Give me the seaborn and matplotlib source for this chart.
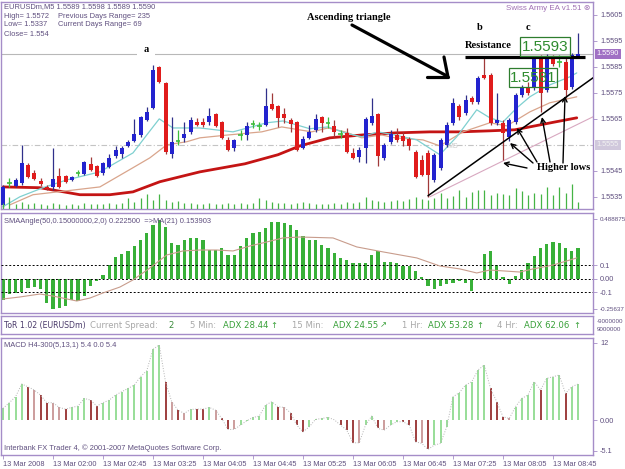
import numpy as np
import pandas as pd
import matplotlib
matplotlib.use('Agg')
import matplotlib.pyplot as plt
from matplotlib.patches import Rectangle
from matplotlib.lines import Line2D
import seaborn as sns

sns.set_theme(style='white')
plt.rcParams['font.family'] = ['Liberation Sans', 'DejaVu Sans']

# ---- EURUSDm M5 candles (13 Mar 2008) ----
opens = [1.55319, 1.55404, 1.55392, 1.55404, 1.55473, 1.55442, 1.55412, 1.55388, 1.55388, 1.55431,
         1.55431, 1.55415, 1.55442, 1.55438, 1.55477, 1.55469, 1.55442, 1.55465, 1.55508, 1.55515,
         1.55546, 1.55565, 1.55588, 1.55646, 1.55692, 1.55850, 1.55788, 1.55515, 1.55565, 1.55577,
         1.55600, 1.55638, 1.55638, 1.55638, 1.55669, 1.55638, 1.55569, 1.55538, 1.55588, 1.55588,
         1.55631, 1.55623, 1.55627, 1.55708, 1.55700, 1.55669, 1.55646, 1.55638, 1.55538, 1.55577,
         1.55608, 1.55658, 1.55635, 1.55623, 1.55592, 1.55596, 1.55519, 1.55504, 1.55538, 1.55635,
         1.55669, 1.55500, 1.55562, 1.55588, 1.55585, 1.55573, 1.55523, 1.55492, 1.55519, 1.55415,
         1.55462, 1.55550, 1.55635, 1.55700, 1.55673, 1.55731, 1.55715, 1.55819, 1.55819, 1.55635,
         1.55635, 1.55581, 1.55638, 1.55742, 1.55773, 1.55769, 1.55885, 1.55762, 1.55881, 1.55869,
         1.55869, 1.55773, 1.55890]
highs = [1.55396, 1.55423, 1.55423, 1.55550, 1.55481, 1.55454, 1.55423, 1.55396, 1.55538, 1.55462,
         1.55435, 1.55431, 1.55454, 1.55488, 1.55504, 1.55473, 1.55485, 1.55515, 1.55546, 1.55546,
         1.55569, 1.55650, 1.55662, 1.55696, 1.55858, 1.55854, 1.55792, 1.55658, 1.55608, 1.55638,
         1.55658, 1.55654, 1.55654, 1.55692, 1.55673, 1.55642, 1.55581, 1.55573, 1.55608, 1.55638,
         1.55646, 1.55638, 1.55769, 1.55750, 1.55704, 1.55692, 1.55654, 1.55642, 1.55585, 1.55627,
         1.55669, 1.55662, 1.55658, 1.55646, 1.55608, 1.55615, 1.55538, 1.55542, 1.55658, 1.55731,
         1.55673, 1.55558, 1.55608, 1.55615, 1.55600, 1.55581, 1.55531, 1.55512, 1.55531, 1.55519,
         1.55577, 1.55638, 1.55731, 1.55708, 1.55742, 1.55738, 1.55815, 1.55888, 1.55827, 1.55750,
         1.55646, 1.55654, 1.55750, 1.55781, 1.55792, 1.55892, 1.55896, 1.55900, 1.55896, 1.55896,
         1.55888, 1.55904, 1.55980]
lows = [1.55312, 1.55388, 1.55388, 1.55396, 1.55423, 1.55415, 1.55392, 1.55377, 1.55377, 1.55385,
        1.55404, 1.55412, 1.55431, 1.55435, 1.55450, 1.55427, 1.55435, 1.55462, 1.55500, 1.55500,
        1.55542, 1.55562, 1.55581, 1.55642, 1.55688, 1.55788, 1.55515, 1.55500, 1.55550, 1.55562,
        1.55592, 1.55623, 1.55619, 1.55627, 1.55619, 1.55573, 1.55527, 1.55527, 1.55569, 1.55569,
        1.55615, 1.55608, 1.55623, 1.55685, 1.55619, 1.55635, 1.55600, 1.55527, 1.55535, 1.55573,
        1.55600, 1.55600, 1.55615, 1.55581, 1.55577, 1.55519, 1.55496, 1.55485, 1.55481, 1.55627,
        1.55469, 1.55492, 1.55554, 1.55562, 1.55546, 1.55531, 1.55423, 1.55431, 1.55350, 1.55408,
        1.55454, 1.55542, 1.55627, 1.55646, 1.55665, 1.55708, 1.55708, 1.55804, 1.55627, 1.55627,
        1.55492, 1.55565, 1.55631, 1.55735, 1.55742, 1.55762, 1.55677, 1.55754, 1.55854, 1.55850,
        1.55731, 1.55765, 1.55890]
closes = [1.55388, 1.55404, 1.55415, 1.55481, 1.55427, 1.55419, 1.55400, 1.55381, 1.55419, 1.55388,
          1.55408, 1.55427, 1.55442, 1.55485, 1.55454, 1.55431, 1.55481, 1.55500, 1.55531, 1.55538,
          1.55562, 1.55592, 1.55658, 1.55677, 1.55838, 1.55792, 1.55523, 1.55562, 1.55565, 1.55592,
          1.55646, 1.55627, 1.55627, 1.55662, 1.55623, 1.55577, 1.55531, 1.55569, 1.55588, 1.55623,
          1.55631, 1.55623, 1.55700, 1.55688, 1.55654, 1.55654, 1.55631, 1.55531, 1.55573, 1.55600,
          1.55650, 1.55635, 1.55635, 1.55600, 1.55592, 1.55523, 1.55500, 1.55531, 1.55650, 1.55662,
          1.55508, 1.55550, 1.55592, 1.55569, 1.55565, 1.55546, 1.55427, 1.55435, 1.55435, 1.55512,
          1.55569, 1.55627, 1.55712, 1.55658, 1.55723, 1.55715, 1.55808, 1.55808, 1.55635, 1.55646,
          1.55596, 1.55646, 1.55742, 1.55769, 1.55750, 1.55885, 1.55750, 1.55892, 1.55862, 1.55869,
          1.55762, 1.55896, 1.55900]
volumes = [6, 12, 5, 7, 5, 6, 5, 4, 6, 5, 4, 5, 4, 6, 5, 5, 5, 6, 5, 6,
           11, 7, 11, 15, 9, 15, 9, 7, 8, 6, 6,
           5, 5, 6, 5, 5, 6, 5, 6, 5, 6, 11, 9, 7, 6, 6, 5, 6, 7, 6, 5,
           5, 5, 6, 5, 7, 6, 7, 12, 9, 8, 7,
           8, 9, 8, 10, 12, 10, 9, 11, 16, 11, 13, 19, 12, 17, 19, 19,
           14, 16, 15, 14, 21, 18, 14, 16, 15, 22, 14, 22, 16, 25, 7]

# moving averages on the price chart (bar index, price)
ma_fast_x = [0, 2.7, 6.4, 10.2, 15.5, 20.8, 23.0, 25.0, 27.2, 31.5, 36.8, 42.2, 44.8, 49.1, 52.0,
             54.7, 57.4, 60.0, 62.7, 66.2, 69.9, 72.6, 75.8, 77.9, 80.0, 82.2, 84.3, 87.5, 90.7, 91.8]
ma_fast_y = [1.55312, 1.55350, 1.55385, 1.55415, 1.55446, 1.55519, 1.55588, 1.55650, 1.55615, 1.55615,
             1.55600, 1.55635, 1.55642, 1.55612, 1.55619, 1.55596, 1.55581, 1.55600, 1.55588, 1.55569,
             1.55512, 1.55581, 1.55685, 1.55654, 1.55638, 1.55692, 1.55735, 1.55781, 1.55812, 1.55827]
ma_mid_x = [1.1, 4.8, 10.2, 15.5, 20.8, 23.5, 26.2, 29.4, 31.5, 36.0, 41.4, 44.6, 49.4, 52.0, 54.7,
            57.4, 60.6, 62.7, 67.2, 69.9, 73.6, 77.9, 80.6, 84.3, 87.5, 91.8]
ma_mid_y = [1.55319, 1.55358, 1.55373, 1.55388, 1.55462, 1.55500, 1.55550, 1.55562, 1.55577, 1.55588,
            1.55600, 1.55619, 1.55600, 1.55615, 1.55600, 1.55577, 1.55588, 1.55577, 1.55569, 1.55546,
            1.55600, 1.55635, 1.55623, 1.55677, 1.55712, 1.55735]
ma_slow_x = [0, 5.9, 12.3, 17.1, 20.8, 25.1, 31.5, 38.7, 44.0, 47.5, 52.3, 57.4, 62.7, 68.3, 73.1,
             77.9, 81.9, 85.1, 88.3, 91.8]
ma_slow_y = [1.55388, 1.55385, 1.55358, 1.55358, 1.55369, 1.55408, 1.55446, 1.55477, 1.55512, 1.55546,
             1.55577, 1.55588, 1.55596, 1.55600, 1.55600, 1.55604, 1.55608, 1.55623, 1.55638, 1.55654]

# drawn objects: trend line, channel line, resistance (bar index, price)
trend_x, trend_y = [68.0, 94.4], [1.55354, 1.55808]
channel_x, channel_y = [68.3, 94.4], [1.55350, 1.55658]
resist_x, resist_y = [73.9, 93.1], [1.55888, 1.55888]

# SMAAngle histogram and its MA(21)
sma_angle = [-0.156, -0.113, -0.106, -0.099, -0.069, -0.064, -0.081, -0.18, -0.23, -0.217,
             -0.205, -0.156, -0.168, -0.131, -0.057, -0.015, 0.03, 0.104, 0.158, 0.183,
             0.202, 0.24, 0.289, 0.338, 0.4, 0.437, 0.388, 0.264, 0.252, 0.289,
             0.301, 0.301, 0.289, 0.215, 0.215, 0.227, 0.178, 0.178, 0.24, 0.306,
             0.338, 0.351, 0.375, 0.42, 0.42, 0.412, 0.4, 0.363, 0.314, 0.289,
             0.289, 0.252, 0.227, 0.19, 0.153, 0.141, 0.116, 0.116, 0.116, 0.178,
             0.202, 0.124, 0.124, 0.116, 0.091, 0.091, 0.059, 0.01, -0.057, -0.081,
             -0.057, -0.04, -0.03, -0.015, -0.032, -0.089, 0.0, 0.183, 0.202, 0.104,
             0.01, -0.04, 0.017, 0.067, 0.116, 0.165, 0.227, 0.257, 0.272, 0.264,
             0.227, 0.202, 0.227]
sma_ma_x = [0, 2.7, 5.9, 8.0, 11.8, 13.9, 16.0, 18.7, 20.8, 23.5, 26.2, 28.8, 31.5, 34.2, 36.8,
            39.5, 42.2, 44.8, 47.5, 52.8, 56.6, 60.8, 66.2, 69.9, 73.1, 75.8, 77.9, 82.7, 84.8, 88.0, 91.8]
sma_ma_y = [-0.152, -0.137, -0.115, -0.13, -0.167, -0.145, -0.107, -0.063, -0.01, 0.079, 0.176, 0.206,
            0.213, 0.213, 0.206, 0.243, 0.273, 0.303, 0.31, 0.303, 0.236, 0.199, 0.154, 0.094, 0.072,
            0.042, 0.064, 0.049, 0.072, 0.101, 0.154]

# MACD H4-300 histogram; g = rising, r = falling, p = weak falling
macd = [1.71, 2.54, 3.41, 5.27, 4.88, 4.39, 3.66, 2.54, 2.54, 1.85,
        1.61, 1.85, 2.05, 3.17, 2.93, 2.05, 2.54, 2.93, 3.66, 4.15,
        4.63, 5.12, 6.34, 7.22, 10.34, 10.98, 5.61, 2.68, 1.46, 0.98,
        1.56, 1.61, 1.61, 1.85, 1.46, 0.24, -1.37, -1.37, -0.73, -0.1,
        0.39, 0.59, 2.2, 2.68, 1.95, 1.85, 1.07, -0.73, -1.71, -0.98,
        0.1, 0.24, 0.39, 0.05, -0.73, -1.46, -3.32, -3.32, -0.73, 0.59,
        -1.22, -1.46, -0.73, -0.24, -0.24, -0.73, -3.17, -3.41, -4.29, -3.66,
        -3.41, -0.98, 3.41, 4.0, 5.12, 5.61, 7.32, 8.05, 4.63, 2.68,
        0.49, 0.24, 1.95, 3.17, 3.66, 5.61, 4.39, 6.1, 6.34, 6.59,
        3.9, 4.88, 5.27]
macd_state = ('ggggrprrpp' 'rgggrrgggg' 'ggggggrprp' 'grrgprrpgg' 'ggggrprrrg'
              'gggprrrpgg' 'rpggrrrprg' 'ggggggggrr' 'rpggggrggg' 'rgg')

time_ticks = [0, 8, 16, 24, 32, 40, 48, 56, 64, 72, 80, 88]
time_labels = ['13 Mar 2008', '13 Mar 02:00', '13 Mar 02:45', '13 Mar 03:25', '13 Mar 04:05',
               '13 Mar 04:45', '13 Mar 05:25', '13 Mar 06:05', '13 Mar 06:45', '13 Mar 07:25',
               '13 Mar 08:05', '13 Mar 08:45']

# ---------------------------------------------------------------
W, H = 625, 469
FRAME = '#a58dc8'
LABEL = '#5f4f7f'
XLIM = (-0.32, 94.4)
SERIF = ['Liberation Serif', 'DejaVu Serif']

fig = plt.figure(figsize=(W / 100, H / 100), dpi=100, facecolor='white')


def rect(x0, y0, x1, y1):
    return [x0 / W, 1 - y1 / H, (x1 - x0) / W, (y1 - y0) / H]


def fpos(x, y):
    return (x / W, 1 - y / H)


def style(ax):
    ax.set_facecolor('white')
    ax.grid(False)
    for s in ax.spines.values():
        s.set_visible(True)
        s.set_color(FRAME)
        s.set_linewidth(1.0)
    ax.tick_params(axis='x', bottom=False, labelbottom=False)
    ax.yaxis.tick_right()
    ax.tick_params(axis='y', left=False, labelleft=False, right=True, labelright=True,
                   direction='out', length=3, width=0.6, color=FRAME,
                   labelsize=5.3, labelcolor=LABEL, pad=2)


bar = np.arange(len(opens))
o, h, l, c = (np.array(v) for v in (opens, highs, lows, closes))
up = c > o + 1e-9
dn = c < o - 1e-9
dj = ~(up | dn)

# ---- price panel ----
ax = fig.add_axes(rect(1, 2, 593, 209))
ax_vol = ax.twinx()
style(ax)
ax.axhline(1.5590, color='#b8b8b8', lw=0.8, zorder=1)
ax.axhline(1.5555, color='#c4c4c4', lw=0.8, ls=(0, (5, 2, 1, 2)), zorder=1)

sns.lineplot(x=ma_slow_x, y=ma_slow_y, ax=ax, color='#c41414', lw=2.0, zorder=2)
sns.lineplot(x=ma_mid_x, y=ma_mid_y, ax=ax, color='#d9a58c', lw=0.9, zorder=2)
sns.lineplot(x=ma_fast_x, y=ma_fast_y, ax=ax, color='#7fd0d0', lw=0.9, zorder=2)

ax.vlines(bar[up], l[up], h[up], color='#30308a', lw=0.9, zorder=3)
ax.vlines(bar[dn], l[dn], h[dn], color='#a03a3a', lw=0.9, zorder=3)
ax.bar(bar[up], (c - o)[up], bottom=o[up], width=0.64, color='#2323cf', lw=0, zorder=3.5)
ax.bar(bar[dn], (c - o)[dn], bottom=o[dn], width=0.64, color='#e01c1c', lw=0, zorder=3.5)
ax.vlines(bar[dj], l[dj], h[dj], color='#3cbc3c', lw=0.9, zorder=3)
ax.hlines(o[dj], bar[dj] - 0.36, bar[dj] + 0.36, color='#3cbc3c', lw=1.2, zorder=3)

ax.plot(channel_x, channel_y, color='#d8a8c0', lw=0.8, zorder=2.5)
ax.plot(trend_x, trend_y, color='black', lw=1.1, zorder=5)
ax.plot(resist_x, resist_y, color='black', lw=2.3, zorder=5, solid_capstyle='butt')

ax.set_ylim(1.55303, 1.56100)
price_ticks = [1.5535, 1.5545, 1.5565, 1.5575, 1.5585, 1.5595, 1.5605]
ax.set_yticks(price_ticks)
ax.set_yticklabels([f'{v:.4f}' for v in price_ticks])
ytr = ax.get_yaxis_transform()
ax.text(1.006, 1.5590, '1.5590', transform=ytr, fontsize=5.3, color='white', va='center',
        bbox=dict(boxstyle='square,pad=0.25', fc='#a070c4', ec='none'))
ax.text(1.006, 1.5555, '1.5555', transform=ytr, fontsize=5.3, color='#f2f2f2', va='center',
        bbox=dict(boxstyle='square,pad=0.25', fc='#d0c8dc', ec='none'))

ax_vol.vlines(bar, 0, volumes, color='#45b445', lw=0.9)
ax_vol.set_ylim(0, 207)
ax_vol.axis('off')
ax.set_xlim(*XLIM)

# ---- SMAAngle panel ----
ax2 = fig.add_axes(rect(1, 213, 593, 313))
style(ax2)
ax2.bar(bar, sma_angle, width=0.5, color='#38b038', lw=0, zorder=2)
for lvl in (0.1, 0.0, -0.1):
    ax2.axhline(lvl, color='black', lw=0.7, ls=(0, (2, 2)), zorder=3)
sns.lineplot(x=sma_ma_x, y=sma_ma_y, ax=ax2, color='#c89c8c', lw=0.8, zorder=4)
ax2.set_ylim(-0.25637, 0.488875)
ax2.set_yticks([0.445, 0.1, 0.0, -0.1, -0.227])
ax2.set_yticklabels(['0.488875', '0.1', '0.00', '-0.1', '-0.25637'])
for t in ax2.get_yticklabels():
    if len(t.get_text()) > 5:
        t.set_fontsize(4.5)
ax2.set_xlim(*XLIM)

# ---- ToR strip ----
ax4 = fig.add_axes(rect(1, 316, 593, 334))
style(ax4)
ax4.tick_params(axis='y', right=False, labelright=False)
ax4.set_xticks([])
ax4.set_yticks([])

# ---- MACD panel ----
ax3 = fig.add_axes(rect(1, 338, 593, 455))
style(ax3)
cmap = {'g': '#86d886', 'r': '#8e1e1e', 'p': '#c48c8c'}
ax3.vlines(bar, 0, macd, colors=[cmap[s] for s in macd_state], lw=1.2, zorder=2)
sns.lineplot(x=bar, y=macd, ax=ax3, color='#b4b4b4', lw=0.7, linestyle=':', zorder=3)
ax3.set_ylim(-5.1, 12)
ax3.set_yticks([11.3, 0.0, -4.5])
ax3.set_yticklabels(['12', '0.00', '-5.1'])
ax3.set_xlim(*XLIM)
ax3.set_xticks(time_ticks)
ax3.set_xticklabels(time_labels, ha='left')
ax3.tick_params(axis='x', bottom=True, labelbottom=True, direction='out', length=3, width=0.6,
                color=FRAME, labelsize=5.3, labelcolor=LABEL, pad=1.5)

for a in (ax, ax2, ax3):
    a.set_xlabel('')
    a.set_ylabel('')

# ---- texts ----
hdr = dict(fontsize=5.4, color=LABEL, va='center', ha='left')
fig.text(*fpos(4, 7), 'EURUSDm,M5 1.5589 1.5598 1.5589 1.5590', **hdr)
fig.text(*fpos(4, 16), 'High= 1.5572', **hdr)
fig.text(*fpos(58, 16), 'Previous Days Range= 235', **hdr)
fig.text(*fpos(4, 25), 'Low= 1.5337', **hdr)
fig.text(*fpos(58, 25), 'Current Days Range= 69', **hdr)
fig.text(*fpos(4, 35), 'Close= 1.554', **hdr)
fig.text(*fpos(590, 9), 'Swiss Army EA v1.51 \u2297', fontsize=5.8, color='#a070b4',
         va='center', ha='right', family=['Liberation Sans', 'DejaVu Sans'])
fig.text(*fpos(4, 221), 'SMAAngle(50,0.15000000,2,0) 0.222500  =>MA(21) 0.153903', **hdr)
fig.text(*fpos(4, 345), 'MACD H4-300(5,13,1) 5.4 0.0 5.4', **hdr)
fig.text(*fpos(4, 448), 'Interbank FX Trader 4, \u00a9 2001-2007 MetaQuotes Software Corp.', **hdr)
fig.text(*fpos(597, 321), '-9000000', fontsize=4.5, color=LABEL, va='center')
fig.text(*fpos(597, 329), '9000000', fontsize=4.5, color=LABEL, va='center')

tor = [(4, 'ToR 1.02 (EURUSDm)', '#4a3a6a', 5.6),
       (90, 'Current Spread:', '#a8a8a8', 6.1), (168, '2', '#3a8a3a', 6.1),
       (190, '5 Min:', '#a8a8a8', 6.1), (223, 'ADX 28.44', '#38a038', 6.1), (270, '\u2191', '#38a038', 6.1),
       (292, '15 Min:', '#a8a8a8', 6.1), (333, 'ADX 24.55', '#38a038', 6.1), (380, '\u2197', '#38a038', 6.1),
       (402, '1 Hr:', '#a8a8a8', 6.1), (428, 'ADX 53.28', '#38a038', 6.1), (476, '\u2191', '#38a038', 6.1),
       (497, '4 Hr:', '#a8a8a8', 6.1), (524, 'ADX 62.06', '#38a038', 6.1), (573, '\u2191', '#38a038', 6.1)]
for x, s, col, fs in tor:
    fig.text(*fpos(x, 325), s, fontsize=fs, color=col, va='center', ha='left', family='DejaVu Sans')

ann = dict(fontsize=7.5, fontweight='bold', color='black', va='center', family=SERIF)
fig.text(*fpos(307, 17), 'Ascending triangle', ha='left', **ann)
fig.text(*fpos(146, 50), 'a', ha='center',
         bbox=dict(boxstyle='square,pad=0.6', fc='white', ec='none'), **ann)
fig.text(*fpos(480, 27), 'b', ha='center', **ann)
fig.text(*fpos(528, 28), 'c', ha='center', **ann)
fig.text(*fpos(465, 45), 'Resistance', ha='left', **ann)
fig.text(*fpos(537, 167), 'Higher lows', ha='left', **ann)
fig.text(*fpos(447, 147), 'MS', fontsize=5, color='#c8c8c8', va='center')

for (x0, y0, x1, y1), label in [((520, 37, 570, 56), '1.5593'), ((509, 68, 557, 87), '1.5581')]:
    fig.add_artist(Rectangle(fpos(x0, y1), (x1 - x0) / W, (y1 - y0) / H, transform=fig.transFigure,
                             fill=False, ec='#2e7d2e', lw=0.9, zorder=6))
    fig.text(*fpos((x0 + x1) / 2, (y0 + y1) / 2 + 0.5), label, fontsize=11, color='#2e8b2e',
             ha='center', va='center', zorder=6)

# hand-drawn arrow towards the triangle
for seg in [((352, 25), (447, 76)), ((444, 57), (448, 77)), ((427, 77), (448, 77))]:
    (xa, ya), (xb, yb) = seg
    fig.add_artist(Line2D([xa / W, xb / W], [1 - ya / H, 1 - yb / H], transform=fig.transFigure,
                          color='black', lw=2.3, solid_capstyle='round', zorder=7))

for tail, head in [((527, 168), (503, 163)), ((533, 163), (510, 143)), ((537, 162), (517, 128)),
                   ((550, 162), (542, 117)), ((563, 163), (565, 96))]:
    ax.annotate('', xy=fpos(*head), xytext=fpos(*tail), xycoords='figure fraction',
                textcoords='figure fraction',
                arrowprops=dict(arrowstyle='->', color='black', lw=1.0, shrinkA=0, shrinkB=0,
                                mutation_scale=8))

fig.savefig('out.png', dpi=100, facecolor='white')
